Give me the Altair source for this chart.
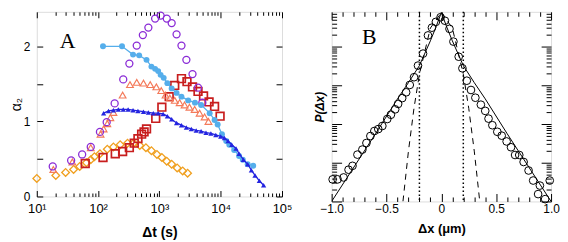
import altair as alt
import pandas as pd

# ---------------- Panel A data: log10(Δt / s) and α2 ----------------
purple_lt = [1.26, 1.56, 1.74, 1.88, 2.03, 2.14, 2.27, 2.41, 2.51, 2.63, 2.73, 2.82, 2.93, 3.02, 3.12, 3.20, 3.28, 3.36, 3.44, 3.54, 3.63, 3.70]
purple_a = [0.40, 0.48, 0.56, 0.66, 0.86, 0.99, 1.24, 1.56, 1.77, 2.01, 2.15, 2.25, 2.37, 2.41, 2.37, 2.31, 2.16, 2.01, 1.82, 1.63, 1.45, 1.25]

lblue_lt = [2.08, 2.39, 2.57, 2.67, 2.79, 2.87, 2.93, 2.98, 3.02, 3.07, 3.13, 3.20, 3.28, 3.36, 3.47, 3.58, 3.68, 3.82, 3.90, 3.95, 4.02, 4.09, 4.14, 4.22, 4.30, 4.36, 4.44, 4.53]
lblue_a = [2.00, 2.00, 1.89, 1.88, 1.82, 1.73, 1.70, 1.67, 1.62, 1.58, 1.51, 1.44, 1.38, 1.33, 1.28, 1.25, 1.22, 1.11, 1.02, 0.96, 0.83, 0.74, 0.69, 0.62, 0.54, 0.49, 0.43, 0.41]

salmon_lt = [1.27, 1.58, 1.88, 2.04, 2.09, 2.15, 2.20, 2.25, 2.40, 2.52, 2.63, 2.74, 2.85, 2.95, 3.03, 3.10, 3.17, 3.25, 3.33, 3.41, 3.49, 3.575, 3.656, 3.737, 3.80]
salmon_a = [0.36, 0.46, 0.65, 0.83, 0.90, 0.97, 1.05, 1.12, 1.35, 1.49, 1.52, 1.51, 1.49, 1.46, 1.41, 1.35, 1.31, 1.28, 1.25, 1.22, 1.19, 1.16, 1.11, 1.06, 1.00]

red_lt = [1.79, 2.08, 2.28, 2.40, 2.51, 2.59, 2.65, 2.71, 2.75, 2.79, 2.94, 3.04, 3.16, 3.25, 3.36, 3.45, 3.54, 3.63, 3.72, 3.81, 3.90, 3.99]
red_a = [0.44, 0.52, 0.57, 0.60, 0.65, 0.71, 0.77, 0.83, 0.86, 0.90, 1.04, 1.19, 1.33, 1.48, 1.57, 1.53, 1.46, 1.40, 1.34, 1.26, 1.20, 1.07]

orange_lt = [1.00, 1.31, 1.47, 1.60, 1.70, 1.81, 1.88, 1.94, 2.03, 2.15, 2.25, 2.36, 2.48, 2.58, 2.68, 2.78, 2.87, 2.96, 3.04, 3.12, 3.20, 3.29, 3.38, 3.46]
orange_a = [0.24, 0.28, 0.32, 0.36, 0.40, 0.45, 0.49, 0.53, 0.57, 0.63, 0.66, 0.69, 0.71, 0.71, 0.68, 0.65, 0.61, 0.56, 0.52, 0.47, 0.43, 0.38, 0.34, 0.31]

blue_lt = [2.09, 2.17, 2.25, 2.33, 2.41, 2.49, 2.57, 2.65, 2.74, 2.82, 2.90, 2.98, 3.06, 3.13, 3.20, 3.28, 3.36, 3.44, 3.52, 3.60, 3.68, 3.76, 3.84, 3.92, 4.00, 4.06, 4.12, 4.18, 4.25, 4.30, 4.37, 4.44, 4.50, 4.56, 4.63, 4.70]
blue_a = [1.11, 1.14, 1.15, 1.16, 1.16, 1.16, 1.15, 1.14, 1.13, 1.12, 1.11, 1.11, 1.10, 1.07, 1.03, 0.98, 0.95, 0.92, 0.90, 0.88, 0.87, 0.85, 0.84, 0.82, 0.80, 0.78, 0.74, 0.69, 0.64, 0.57, 0.49, 0.43, 0.35, 0.28, 0.21, 0.15]

# ---------------- Panel B data: Δx (µm) and log10 P ----------------
circ_x = [-0.991, -0.946, -0.891, -0.846, -0.81, -0.765, -0.72, -0.683, -0.647, -0.611, -0.575, -0.538, -0.493, -0.46, -0.421, -0.394, -0.357, -0.321, -0.288, -0.249, -0.213, -0.167, -0.122, -0.086, -0.05, -0.007,
          0.032, 0.074, 0.11, 0.158, 0.192, 0.232, 0.27, 0.31, 0.36, 0.40, 0.43, 0.465, 0.51, 0.55, 0.595, 0.635, 0.672, 0.71, 0.75, 0.795, 0.837, 0.882, 0.898, 0.946, 0.988]
circ_lp = [-4.43, -4.43, -4.38, -4.18, -4.08, -3.79, -3.66, -3.49, -3.31, -3.18, -3.13, -3.05, -2.87, -2.76, -2.62, -2.48, -2.33, -2.18, -1.99, -1.79, -1.49, -1.18, -0.71, -0.51, -0.36, -0.24,
           -0.33, -0.54, -0.87, -1.26, -1.56, -1.88, -2.12, -2.32, -2.50, -2.66, -2.86, -3.03, -3.20, -3.30, -3.45, -3.60, -3.80, -3.80, -3.98, -4.20, -4.46, -4.81, -4.59, -4.94, -4.46]

solid_x = [-1.0, -0.6, -0.4, -0.3, -0.2, -0.1, -0.05, 0.0, 0.05, 0.1, 0.2, 0.3, 0.4, 0.6, 1.0]
solid_lp = [-5.0, -3.25, -2.35, -1.93, -1.49, -0.85, -0.50, -0.12, -0.50, -0.85, -1.49, -1.93, -2.35, -3.25, -5.0]

dash_left_x = [-0.35, -0.3, -0.25, -0.2, -0.1, 0.0]
dash_left_lp = [-5.0, -3.7, -2.6, -1.71, -0.52, -0.12]
dash_right_x = [0.0, 0.1, 0.2, 0.25, 0.3, 0.35]
dash_right_lp = [-0.12, -0.52, -1.71, -2.6, -3.7, -5.0]

dotted_x = [-0.2, 0.2]

# ---------------- tick values ----------------
a_xticks = [k * 10 ** n for n in range(1, 5) for k in range(1, 10)] + [100000]
a_yticks = [0, 0.5, 1, 1.5, 2]
b_xticks = [round(-1 + 0.1 * i, 1) for i in range(21)]
b_yticks = [k * 10.0 ** n for n in range(-5, 0) for k in range(1, 10)] + [1.0]

SANS = "Liberation Sans"
SERIF = "Liberation Serif"

def series(lt, a):
    return pd.DataFrame({"t": [10 ** v for v in lt], "a": a})

A_X = alt.Scale(type="log", domain=[10, 100000], nice=False)
A_Y = alt.Scale(domain=[0, 2.46], nice=False, zero=False)

a_major_x = "indexof([10,100,1000,10000,100000], datum.value) >= 0"
a_xlabel = ("datum.value == 10 ? '10\u00b9' : datum.value == 100 ? '10\u00b2' : datum.value == 1000 ? '10\u00b3' : "
            "datum.value == 10000 ? '10\u2074' : datum.value == 100000 ? '10\u2075' : ''")

def ts(test, big, small):
    return {"condition": {"test": test, "value": big}, "value": small}

common_axis = dict(grid=False, domain=False, tickColor="black", tickWidth=1, labelFont=SANS,
                   labelColor="black", titleFont=SANS, titleColor="black", labelOverlap=False,
                   labelFlush=False)

ax_a_bottom = alt.Axis(orient="bottom", values=a_xticks, labelExpr=a_xlabel, tickSize=ts(a_major_x, -6, -3.5),
                       labelPadding=12, labelFontSize=13, title="\u0394t (s)", titleFontSize=14,
                       titleFontWeight="bold", titlePadding=8, **common_axis)
ax_a_top = alt.Axis(orient="top", values=a_xticks, labels=False, tickSize=ts(a_major_x, -6, -3.5), title=None, **common_axis)
ax_a_left = alt.Axis(orient="left", values=a_yticks, labelExpr="datum.value % 1 == 0 ? format(datum.value, 'd') : ''",
                     tickSize=ts("true", -6, -6), labelPadding=13, labelFontSize=12, title="\u03b1\u2082",
                     titleFontSize=14, titleFontWeight="normal", titlePadding=0, **common_axis)
ax_a_right = alt.Axis(orient="right", values=a_yticks, labels=False, tickSize=ts("true", -6, -6), title=None, **common_axis)

blue_df = series(blue_lt, blue_a)

a_axes1 = alt.Chart(blue_df).mark_point(opacity=0).encode(
    x=alt.X("t:Q", scale=A_X, axis=ax_a_bottom), y=alt.Y("a:Q", scale=A_Y, axis=ax_a_left))
a_axes2 = alt.Chart(blue_df).mark_point(opacity=0).encode(
    x=alt.X("t:Q", scale=A_X, axis=ax_a_top), y=alt.Y("a:Q", scale=A_Y, axis=ax_a_right))

def enc(ch):
    return ch.encode(x=alt.X("t:Q", scale=A_X, axis=None), y=alt.Y("a:Q", scale=A_Y, axis=None))

purple = enc(alt.Chart(series(purple_lt, purple_a)).mark_point(shape="circle", filled=False, size=50, color="#8A2BD6", strokeWidth=1.3, opacity=1))
lblue_df = series(lblue_lt, lblue_a)
lblue_line = enc(alt.Chart(lblue_df).mark_line(color="#55AEEB", strokeWidth=1.3))
lblue_pts = enc(alt.Chart(lblue_df).mark_point(shape="circle", filled=True, size=36, color="#55AEEB", opacity=1))
salmon = enc(alt.Chart(series(salmon_lt, salmon_a)).mark_point(shape="triangle-up", filled=False, size=45, color="#F47A5A", strokeWidth=1.2, opacity=1))
red = enc(alt.Chart(series(red_lt, red_a)).mark_point(shape="square", filled=False, size=60, color="#C81E1E", strokeWidth=1.7, opacity=1))
orange = enc(alt.Chart(series(orange_lt, orange_a)).mark_point(shape="diamond", filled=False, size=60, color="#F0A020", strokeWidth=1.3, opacity=1))
blue_line = enc(alt.Chart(blue_df).mark_line(color="#2424E0", strokeWidth=1.3))
blue_pts = enc(alt.Chart(blue_df).mark_point(shape="triangle-up", filled=True, size=28, color="#2424E0", opacity=1))

label_a = alt.Chart(pd.DataFrame({"s": ["A"]})).mark_text(font=SERIF, fontSize=22, align="center", baseline="middle", color="black").encode(
    text="s:N", x=alt.value(31), y=alt.value(29))

panel_a = alt.layer(a_axes1, a_axes2, orange, red, salmon, purple, lblue_line, lblue_pts, blue_line, blue_pts, label_a).resolve_axis(
    x="independent", y="independent").properties(width=247, height=186)

# ---------------- Panel B ----------------
B_X = alt.Scale(domain=[-1, 1], nice=False, zero=False)
B_Y = alt.Scale(type="log", domain=[1e-5, 10 ** -0.1], nice=False)

b_major_x = "abs(datum.value*2 - round(datum.value*2)) < 1e-6"
b_major_y = "abs(log(datum.value)/LN10 - round(log(datum.value)/LN10)) < 1e-6"
b_xlabel = "abs(datum.value*2 - round(datum.value*2)) < 1e-6 ? (abs(datum.value) < 1e-9 ? '0' : format(datum.value, '.1f')) : ''"

ax_b_bottom = alt.Axis(orient="bottom", values=b_xticks, labelExpr=b_xlabel, tickSize=ts(b_major_x, -8, -4.5),
                       labelPadding=10, labelFontSize=12, title="\u0394x (\u03bcm)", titleFontSize=13,
                       titleFontWeight="bold", titlePadding=5, **common_axis)
ax_b_top = alt.Axis(orient="top", values=b_xticks, labels=False, tickSize=ts(b_major_x, -8, -4.5), title=None, **common_axis)
ax_b_left = alt.Axis(orient="left", values=b_yticks, labels=False, tickSize=ts(b_major_y, -10, -5),
                     title="P(\u0394x)", titleFontSize=12, titleFontWeight="bold", titleFontStyle="italic",
                     titlePadding=5, **common_axis)
ax_b_right = alt.Axis(orient="right", values=b_yticks, labels=False, tickSize=ts(b_major_y, -10, -5), title=None, **common_axis)

def pdf(xs, lps):
    return pd.DataFrame({"x": xs, "p": [10 ** v for v in lps]})

circ_df = pdf(circ_x, circ_lp)
b_axes1 = alt.Chart(circ_df).mark_point(opacity=0).encode(
    x=alt.X("x:Q", scale=B_X, axis=ax_b_bottom), y=alt.Y("p:Q", scale=B_Y, axis=ax_b_left))
b_axes2 = alt.Chart(circ_df).mark_point(opacity=0).encode(
    x=alt.X("x:Q", scale=B_X, axis=ax_b_top), y=alt.Y("p:Q", scale=B_Y, axis=ax_b_right))

def encb(ch):
    return ch.encode(x=alt.X("x:Q", scale=B_X, axis=None), y=alt.Y("p:Q", scale=B_Y, axis=None))

solid = encb(alt.Chart(pdf(solid_x, solid_lp)).mark_line(color="black", strokeWidth=1, clip=True))
dashL = encb(alt.Chart(pdf(dash_left_x, dash_left_lp)).mark_line(color="black", strokeWidth=1, strokeDash=[6, 5], clip=True))
dashR = encb(alt.Chart(pdf(dash_right_x, dash_right_lp)).mark_line(color="black", strokeWidth=1, strokeDash=[6, 5], clip=True))
dotted = alt.Chart(pd.DataFrame({"x": dotted_x})).mark_rule(color="black", strokeWidth=1.5, strokeDash=[1.5, 2.5]).encode(
    x=alt.X("x:Q", scale=B_X, axis=None))
circles = encb(alt.Chart(circ_df).mark_point(shape="circle", filled=False, size=60, color="black", strokeWidth=1, opacity=1))

label_b = alt.Chart(pd.DataFrame({"s": ["B"]})).mark_text(font=SERIF, fontSize=22, align="center", baseline="middle", color="black").encode(
    text="s:N", x=alt.value(38), y=alt.value(25))

panel_b = alt.layer(b_axes1, b_axes2, dotted, dashL, dashR, solid, circles, label_b).resolve_axis(
    x="independent", y="independent").properties(width=221, height=191)

chart = alt.hconcat(panel_a, panel_b, spacing=20).properties(
    padding={"left": 0, "top": 0, "right": 0, "bottom": 0}
).configure_view(stroke="black", strokeWidth=1.2).configure(background="white")

chart.save("out.html", embed_options={"renderer": "svg", "actions": False})
